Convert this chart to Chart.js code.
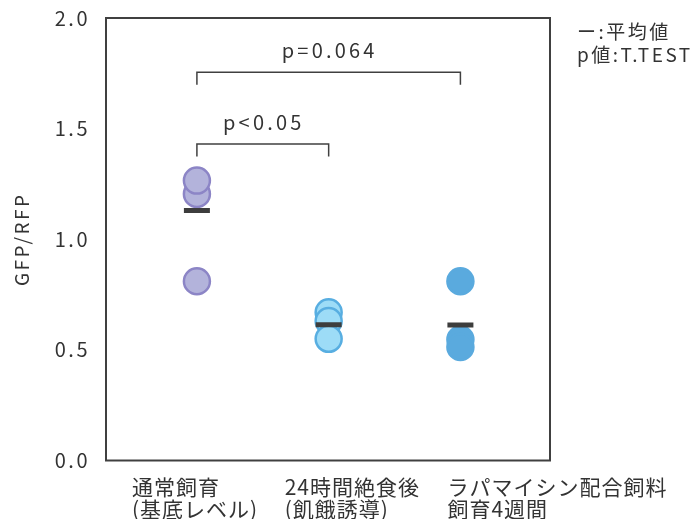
<!DOCTYPE html>
<html>
<head>
<meta charset="utf-8">
<script src="https://cdn.jsdelivr.net/npm/chart.js@4/dist/chart.umd.min.js"></script>
<style>
  html, body { margin: 0; padding: 0; background: #ffffff; }
  canvas { display: block; }
</style>
</head>
<body>
<canvas id="chart" width="700" height="519"></canvas>
<script>
// Group names (two lines each), drawn under the plot
const categories = [
  ['通常飼育', '(基底レベル)'],
  ['24時間絶食後', '(飢餓誘導)'],
  ['ラパマイシン配合飼料', '飼育4週間']
];

// GFP/RFP ratio of each sample
const basal = [0.81, 1.205, 1.265];
const fasting = [0.67, 0.63, 0.55];
const rapamycin = [0.81, 0.547, 0.513];

// Group means (drawn as short bars)
const groupMeans = [1.13, 0.613, 0.612];

// Y axis ticks
const yTicks = [0, 0.5, 1.0, 1.5, 2.0];

// Pairwise comparisons (group numbers are 1-based)
const comparisons = [
  { from: 1, to: 3, label: 'p=0.064' },
  { from: 1, to: 2, label: 'p<0.05' }
];

// Note text at the upper right
const noteLines = ['ー:平均値', 'p値:T.TEST'];

// ---- layout / style ----
const FONT = '"Noto Sans CJK JP", "Noto Sans", sans-serif';
const TEXT = '#333333';
const INK = '#404040';
const bracketLevels = [1.755, 1.43];     // y (data units) of each bracket
const labelShift = [-65, -44, -13];      // left edge of each group label relative to its column

const framePlugin = {
  id: 'frame',
  beforeDraw(chart) {
    chart.ctx.letterSpacing = '2.5px';
  },
  beforeDatasetsDraw(chart) {
    const { ctx, chartArea: a } = chart;
    ctx.save();
    ctx.strokeStyle = INK;
    ctx.lineWidth = 2;
    ctx.strokeRect(a.left, a.top, a.right - a.left, a.bottom - a.top);
    ctx.restore();
  }
};

const bracketPlugin = {
  id: 'brackets',
  afterDatasetsDraw(chart) {
    const { ctx } = chart;
    const xs = chart.scales.x, ys = chart.scales.y;
    ctx.save();
    comparisons.forEach((c, i) => {
      const x1 = xs.getPixelForValue(c.from);
      const x2 = xs.getPixelForValue(c.to);
      const y = ys.getPixelForValue(bracketLevels[i]);
      ctx.strokeStyle = INK;
      ctx.lineWidth = 1.5;
      ctx.beginPath();
      ctx.moveTo(x1, y + 12.5);
      ctx.lineTo(x1, y);
      ctx.lineTo(x2, y);
      ctx.lineTo(x2, y + 12.5);
      ctx.stroke();
      ctx.fillStyle = TEXT;
      ctx.font = '20px ' + FONT;
      ctx.letterSpacing = '3.2px';
      ctx.textAlign = 'center';
      ctx.textBaseline = 'alphabetic';
      ctx.fillText(c.label, (x1 + x2) / 2 + 1, y - 14);
    });
    ctx.restore();
  }
};

const labelPlugin = {
  id: 'groupLabels',
  afterDraw(chart) {
    const { ctx, chartArea: a } = chart;
    const xs = chart.scales.x;
    ctx.save();
    ctx.fillStyle = TEXT;
    ctx.font = '21px ' + FONT;
    ctx.letterSpacing = '1px';
    ctx.textAlign = 'left';
    ctx.textBaseline = 'middle';
    categories.forEach((lines, i) => {
      const x = xs.getPixelForValue(i + 1) + labelShift[i];
      lines.forEach((t, j) => ctx.fillText(t, x, a.bottom + 27 + j * 22));
    });
    // note at the upper right
    ctx.font = '19px ' + FONT;
    ctx.letterSpacing = '2.5px';
    noteLines.forEach((t, j) => ctx.fillText(t, a.right + 27, a.top + 14 + j * 23));
    ctx.restore();
  }
};

const pointStyle = (fill, border) => ({
  pointRadius: 13,
  pointHoverRadius: 13,
  borderWidth: 2.5,
  backgroundColor: fill,
  borderColor: border
});

new Chart(document.getElementById('chart'), {
  type: 'scatter',
  data: {
    datasets: [
      {
        label: '平均値',
        data: groupMeans.map((v, i) => ({ x: i + 1, y: v })),
        pointStyle: 'line',
        pointRadius: 13,
        pointHoverRadius: 13,
        borderWidth: 5,
        borderColor: '#3d3d3d',
        backgroundColor: '#3d3d3d'
      },
      { label: categories[0][0], data: basal.map(v => ({ x: 1, y: v })), ...pointStyle('#b3b3db', '#8c85c6') },
      { label: categories[1][0], data: fasting.map(v => ({ x: 2, y: v })), ...pointStyle('#9ddcf7', '#58aee1') },
      { label: categories[2][0], data: rapamycin.map(v => ({ x: 3, y: v })), ...pointStyle('#5aaade', '#5aaade') }
    ]
  },
  options: {
    responsive: false,
    animation: false,
    devicePixelRatio: 1,
    events: [],
    layout: { padding: { top: 16.5, right: 150, bottom: 58.5, left: 0 } },
    plugins: { legend: { display: false }, tooltip: { enabled: false } },
    scales: {
      x: { type: 'linear', min: 0.31, max: 3.68, display: false },
      y: {
        min: 0,
        max: 2,
        afterFit(scale) {
          scale.width = 106;
          scale.paddingTop = 0;
          scale.paddingBottom = 0;
        },
        afterBuildTicks(scale) { scale.ticks = yTicks.map(v => ({ value: v })); },
        grid: { display: false, drawTicks: false },
        border: { display: false },
        ticks: {
          callback: v => Number(v).toFixed(1),
          font: { family: FONT, size: 20 },
          color: TEXT,
          padding: 16
        },
        title: {
          display: true,
          text: 'GFP/RFP',
          font: { family: FONT, size: 19 },
          color: TEXT,
          padding: { top: 10, bottom: 0 }
        }
      }
    }
  },
  plugins: [framePlugin, bracketPlugin, labelPlugin]
});
</script>
</body>
</html>
